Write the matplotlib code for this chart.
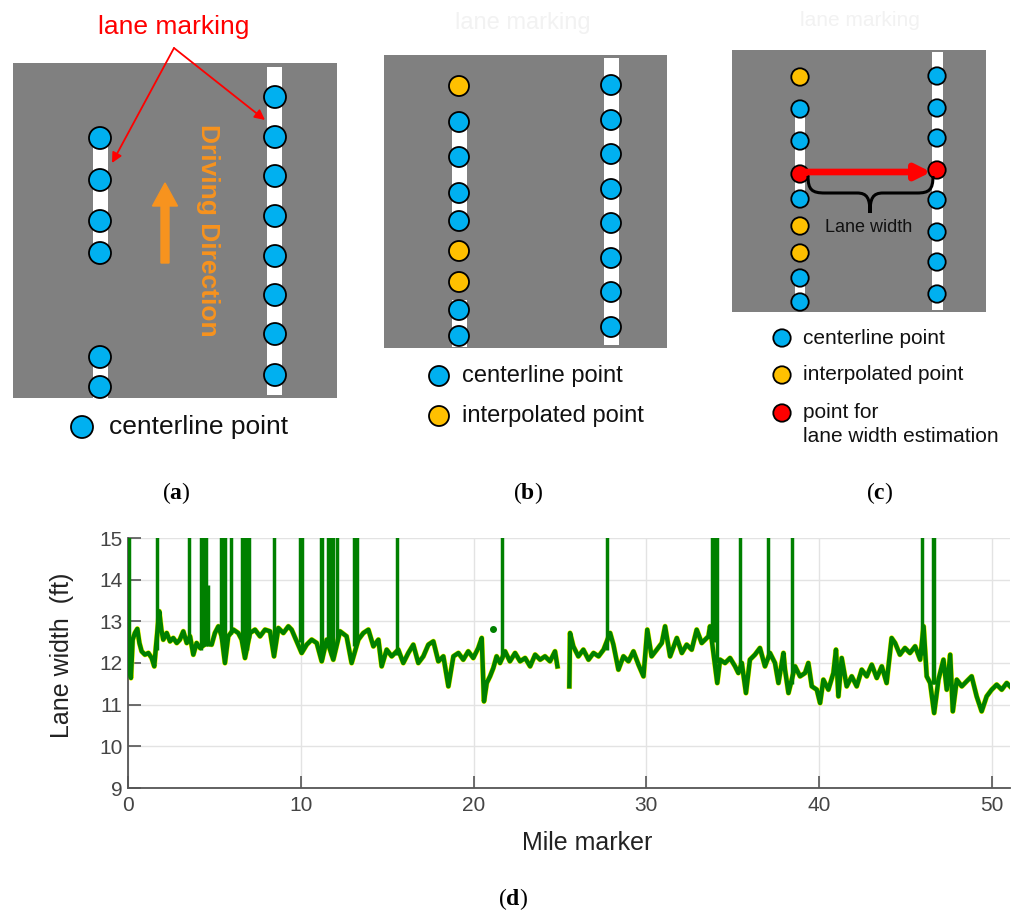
import numpy as np
import matplotlib
matplotlib.use("Agg")
import matplotlib.pyplot as plt
from matplotlib.patches import Circle, Rectangle, PathPatch
from matplotlib.path import Path

plt.rcParams['font.family'] = ['Liberation Sans', 'DejaVu Sans']
plt.rcParams['mathtext.fontset'] = 'custom'
plt.rcParams['mathtext.rm'] = 'Liberation Serif'
plt.rcParams['mathtext.bf'] = 'Liberation Serif:bold'

## (d) lane width along the route
seg1_mile = [0.0, 0.08, 0.17, 0.27, 0.4, 0.54, 0.66, 0.79, 0.98, 1.18, 1.37, 1.52, 1.62, 1.81, 1.93,
             2.04, 2.24, 2.43, 2.62, 2.82, 3.0, 3.2, 3.4, 3.59, 3.78, 3.97, 4.17, 4.55, 4.84, 5.03,
             5.23, 5.42, 5.61, 5.8, 6.1, 6.38, 6.58, 6.77, 7.06, 7.35, 7.64, 7.93, 8.22, 8.45, 8.7,
             8.99, 9.28, 9.47, 9.76, 10.05, 10.34, 10.63, 10.92, 11.21, 11.5, 11.88, 12.27, 12.65,
             12.94, 13.33, 13.62, 13.91, 14.2, 14.49, 14.68, 14.97, 15.26, 15.64, 15.93, 16.22,
             16.51, 16.8, 17.09, 17.38, 17.67, 17.96, 18.25, 18.54, 18.83, 19.12, 19.4, 19.69,
             19.98, 20.27, 20.47, 20.6, 20.76, 20.95, 21.14, 21.33, 21.53, 21.82, 22.1, 22.4,
             22.69, 22.98, 23.27, 23.56, 23.85, 24.13, 24.42, 24.71, 24.85]
seg1_width = [12.36, 11.84, 11.64, 12.56, 12.72, 12.82, 12.48, 12.28, 12.2, 12.24, 12.12, 11.92, 12.4,
              13.24, 12.8, 12.56, 12.72, 12.52, 12.6, 12.48, 12.56, 12.76, 12.48, 12.64, 12.2, 12.48,
              12.36, 12.48, 12.44, 12.72, 12.88, 12.64, 12.0, 12.64, 12.8, 12.72, 12.56, 12.12, 12.72,
              12.8, 12.64, 12.8, 12.76, 12.16, 12.84, 12.72, 12.88, 12.8, 12.52, 12.24, 12.44, 12.56,
              12.48, 12.04, 12.56, 12.08, 12.76, 12.64, 12.0, 12.56, 12.72, 12.8, 12.4, 12.56, 11.92,
              12.32, 12.16, 12.32, 12.0, 12.24, 12.44, 12.0, 12.16, 12.44, 12.52, 12.04, 12.16, 11.44,
              12.16, 12.24, 12.08, 12.28, 12.12, 12.36, 12.6, 11.08, 11.52, 11.68, 11.88, 12.16, 12.0,
              12.28, 12.04, 12.24, 12.04, 12.12, 11.92, 12.2, 12.08, 12.16, 12.04, 12.28, 11.92]
seg2_mile = [25.54, 25.58, 25.77, 26.06, 26.35, 26.65, 26.94, 27.23, 27.52, 27.9, 28.09, 28.38, 28.67,
             28.96, 29.25, 29.54, 29.83, 30.05, 30.3, 30.6, 30.89, 31.08, 31.37, 31.76, 32.05, 32.33,
             32.62, 32.91, 33.2, 33.59, 33.68, 34.1, 34.26, 34.55, 34.84, 35.13, 35.32, 35.52, 35.76,
             35.99, 36.28, 36.57, 36.86, 37.15, 37.44, 37.64, 37.93, 38.02, 38.22, 38.6, 38.89, 39.18,
             39.37, 39.57, 39.86, 40.05, 40.24, 40.53, 40.82, 40.97, 41.11, 41.3, 41.59, 41.88, 42.17,
             42.46, 42.75, 43.04, 43.33, 43.62, 43.9, 44.19, 44.39, 44.67, 44.96, 45.25, 45.55, 45.84,
             46.04, 46.22, 46.42, 46.65, 46.9, 47.19, 47.38, 47.58, 47.73, 47.96, 48.25, 48.53, 48.82,
             49.11, 49.4, 49.69, 49.98, 50.27, 50.56, 50.85, 51.04]
seg2_width = [11.44, 12.72, 12.4, 12.16, 12.32, 12.08, 12.24, 12.16, 12.32, 12.72, 12.44, 11.84, 12.16,
              12.04, 12.28, 11.96, 11.68, 12.8, 12.16, 12.32, 12.48, 12.88, 12.16, 12.6, 12.24, 12.44,
              12.32, 12.8, 12.48, 12.64, 12.88, 11.52, 12.08, 12.0, 12.12, 11.92, 11.76, 12.0, 11.28,
              12.08, 12.2, 12.36, 11.92, 12.24, 12.0, 11.52, 12.24, 11.84, 11.28, 11.92, 11.68, 11.76,
              12.0, 11.44, 11.36, 11.04, 11.6, 11.36, 11.76, 12.32, 11.2, 12.12, 11.44, 11.68, 11.44,
              11.84, 11.68, 11.96, 11.64, 11.92, 11.52, 12.6, 12.48, 12.2, 12.36, 12.24, 12.4, 12.08,
              12.88, 11.68, 11.52, 10.8, 11.6, 12.08, 11.36, 12.2, 10.84, 11.6, 11.44, 11.56, 11.68,
              11.2, 10.84, 11.2, 11.36, 11.48, 11.36, 11.52, 11.44]
dot_mile = [21.13]
dot_width = [12.82]
spike_mile = [0.06, 1.70, 3.55, 4.22, 4.36, 4.51, 4.65, 5.38, 5.5, 5.63, 5.96, 6.58, 6.71, 6.87, 7.02,
              8.45, 9.95, 10.05, 11.17, 11.25, 11.59, 11.73, 11.88, 12.1, 13.08, 13.23, 15.55, 21.66,
              27.7, 33.78, 33.9, 34.06, 35.42, 37.06, 38.4, 45.93, 46.57, 46.66]
spike_base = [12.2, 12.3, 12.5, 12.3, 12.4, 12.4, 12.4, 12.6, 12.5, 12.2, 12.7, 12.5, 12.3, 12.3, 12.6,
              12.3, 12.5, 12.3, 12.1, 12.1, 12.4, 12.2, 12.2, 12.5, 12.4, 12.5, 12.2, 12.1,
              12.3, 12.7, 12.5, 12.0, 11.9, 12.1, 11.5, 12.2, 11.5, 11.5]
spike_top = [15.5] * len(spike_mile)
spike_top[6] = 13.88

## (a)-(c) sketch: point rows along each marking (top to bottom) and their kind
a_left = [138, 180, 221, 253, 357, 387]
a_right = [97, 137, 176, 216, 256, 295, 334, 375]
b_left = [86, 122, 157, 193, 221, 251, 282, 310, 336]
b_left_kind = ['i', 'c', 'c', 'c', 'c', 'i', 'i', 'c', 'c']
b_right = [85, 120, 154, 189, 223, 258, 292, 327]
c_left = [77, 109, 141, 174, 199, 226, 253, 278, 302]
c_left_kind = ['i', 'c', 'c', 'e', 'c', 'i', 'i', 'c', 'c']
c_right = [76, 108, 138, 170, 200, 232, 262, 294]
c_right_kind = ['c', 'c', 'c', 'e', 'c', 'c', 'c', 'c']

kind_color = {'c': '#00B0F0', 'i': '#FFC000', 'e': '#FF0000'}
road_gray = '#808080'

fig = plt.figure(figsize=(10.17, 9.15), dpi=100)

# overlay in pixel units for the sketches
sk = fig.add_axes([0, 0, 1, 1])
sk.set_xlim(0, 1017)
sk.set_ylim(915, 0)
sk.axis('off')


def dots(x, ys, kinds, r):
    for y, k in zip(ys, kinds):
        sk.add_patch(Circle((x, y), r, facecolor=kind_color[k], edgecolor='black', lw=1.3, zorder=4))


def stripe(x, w, y0, y1):
    sk.add_patch(Rectangle((x - w / 2, y0), w, y1 - y0, facecolor='white', edgecolor='none', zorder=2))


# (a)
sk.add_patch(Rectangle((13, 63), 324, 335, facecolor=road_gray, edgecolor='none', zorder=1))
stripe(100, 15, 138, 253)
stripe(100, 15, 357, 398)
stripe(274, 15, 67, 395)
dots(100, a_left, ['c'] * len(a_left), 11)
dots(275, a_right, ['c'] * len(a_right), 11)
sk.text(174, 27, 'lane marking', color='red', fontsize=19, ha='center', va='center')
for tip in [(112, 163), (265, 120)]:
    sk.annotate('', xy=tip, xytext=(174, 48),
                arrowprops=dict(arrowstyle='-|>', color='red', lw=1.3, mutation_scale=15, shrinkA=0, shrinkB=0))
sk.arrow(165, 263, 0, -80, width=8, head_width=25, head_length=23, length_includes_head=True,
         color='#F7931E', zorder=3)
sk.text(208, 230, 'Driving Direction', color='#F7931E', fontsize=19, fontweight='bold',
        rotation=-90, ha='center', va='center')
dots(82, [427], ['c'], 11)
sk.text(109, 427, 'centerline point', fontsize=19, va='center', color='#111111')

# (b)
sk.text(523, 23, 'lane marking', color='#f2f2f2', fontsize=17, ha='center', va='center')
sk.add_patch(Rectangle((384, 55), 283, 293, facecolor=road_gray, edgecolor='none', zorder=1))
stripe(459, 15, 122, 221)
stripe(459, 15, 300, 347)
stripe(611, 15, 58, 345)
dots(459, b_left, b_left_kind, 10)
dots(611, b_right, ['c'] * len(b_right), 10)
dots(439, [376], ['c'], 10)
dots(439, [416], ['i'], 10)
sk.text(462, 376, 'centerline point', fontsize=17, va='center', color='#111111')
sk.text(462, 416, 'interpolated point', fontsize=17, va='center', color='#111111')

# (c)
sk.text(860, 20, 'lane marking', color='#f2f2f2', fontsize=15, ha='center', va='center')
sk.add_patch(Rectangle((732, 50), 254, 262, facecolor=road_gray, edgecolor='none', zorder=1))
stripe(800, 10, 109, 199)
stripe(800, 10, 278, 310)
stripe(937, 11, 52, 310)
dots(800, c_left, c_left_kind, 8.7)
dots(937, c_right, c_right_kind, 8.7)
sk.annotate('', xy=(931, 172), xytext=(806, 172),
            arrowprops=dict(arrowstyle='-|>', color='red', lw=4.8, mutation_scale=22, shrinkA=0, shrinkB=0),
            zorder=5)
brace = Path([(808, 176), (808, 190), (812, 193), (825, 193), (857, 193),
              (867, 193), (870, 198), (870, 213), (870, 198), (873, 193), (883, 193),
              (917, 193), (929, 193), (933, 190), (933, 176)],
             [Path.MOVETO, Path.CURVE4, Path.CURVE4, Path.CURVE4, Path.LINETO,
              Path.CURVE4, Path.CURVE4, Path.CURVE4, Path.CURVE4, Path.CURVE4, Path.CURVE4,
              Path.LINETO, Path.CURVE4, Path.CURVE4, Path.CURVE4])
sk.add_patch(PathPatch(brace, facecolor='none', edgecolor='black', lw=2.2, zorder=5))
sk.text(869, 227, 'Lane width', fontsize=13, ha='center', va='center', color='#111111', zorder=5)
dots(782, [338], ['c'], 8.7)
dots(782, [375], ['i'], 8.7)
dots(782, [413], ['e'], 8.7)
sk.text(803, 338, 'centerline point', fontsize=15, va='center', color='#111111')
sk.text(803, 375, 'interpolated point', fontsize=15, va='center', color='#111111')
sk.text(803, 412, 'point for', fontsize=15, va='center', color='#111111')
sk.text(803, 437, 'lane width estimation', fontsize=15, va='center', color='#111111')

# panel labels
for lx, ly, lab in [(176, 493, 'a'), (528, 493, 'b'), (880, 493, 'c'), (513, 899, 'd')]:
    sk.text(lx, ly, r'($\mathbf{%s}$)' % lab, fontsize=17, ha='center', va='center',
            family='Liberation Serif')

## (d) chart
ax = fig.add_axes([128 / 1017, 1 - 788 / 915, (1010 - 128) / 1017, (788 - 538) / 915])
ax.vlines(spike_mile, spike_base, spike_top, color='#008000', lw=2.5, zorder=3)
for m, w in [(seg1_mile, seg1_width), (seg2_mile, seg2_width)]:
    ax.plot(m, w, color='#FFFF00', lw=3.9, zorder=2)
    ax.plot(m, w, color='#008000', lw=3.2, zorder=3)
ax.plot(dot_mile, dot_width, 'o', color='#008000', ms=4, zorder=3)
ax.set_xlim(0, 51.04)
ax.set_ylim(9, 15)
ax.set_xticks([0, 10, 20, 30, 40, 50])
ax.set_yticks([9, 10, 11, 12, 13, 14, 15])
ax.grid(True, color='#e3e3e3', lw=1)
ax.set_axisbelow(True)
for s in ['top', 'right']:
    ax.spines[s].set_visible(False)
for s in ['left', 'bottom']:
    ax.spines[s].set_color('#555555')
    ax.spines[s].set_linewidth(1.3)
ax.tick_params(direction='in', length=9, width=1.2, color='#555555', labelcolor='#444444',
               labelsize=15)
ax.tick_params(axis='x', pad=6)
ax.tick_params(axis='y', pad=4)
fig.text(62 / 1017, 1 - 655 / 915, 'Lane width  (ft)', rotation=90, fontsize=18,
         ha='center', va='center', color='#222222')
fig.text(587 / 1017, 1 - 843 / 915, 'Mile marker', fontsize=18, ha='center', va='center',
         color='#222222')

fig.savefig('out.png', dpi=100)
